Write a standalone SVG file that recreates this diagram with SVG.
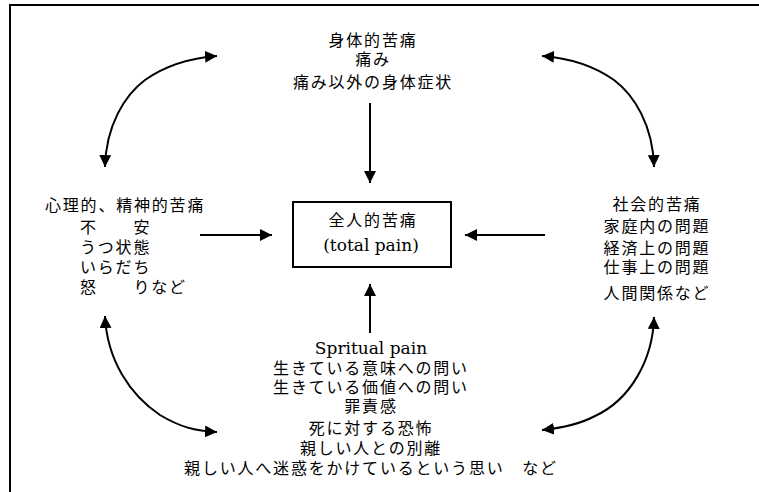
<svg xmlns="http://www.w3.org/2000/svg" width="759" height="492" viewBox="0 0 759 492">
<style>
.jp{font-family:"Noto Sans CJK JP","Noto Sans",sans-serif;font-size:16px;letter-spacing:1.8px;fill:#000}
.c{text-anchor:middle}
.en{font-family:"DejaVu Serif","Liberation Serif",serif;font-size:17px;fill:#000}
.ln{fill:none;stroke:#000;stroke-width:2}
</style>
<defs>
<marker id="ah" viewBox="0 0 12 12" refX="12" refY="6" markerWidth="12" markerHeight="12" markerUnits="userSpaceOnUse" orient="auto-start-reverse">
<path d="M0,0 L12,6 L0,12 z" fill="#000"/>
</marker>
</defs>
<rect x="10" y="5" width="780" height="520" fill="#fff" stroke="#000" stroke-width="2"/>
<g id="connectors">
<path class="ln" d="M370,103 L370,183" marker-end="url(#ah)"/>
<path class="ln" d="M200,235 L272,235" marker-end="url(#ah)"/>
<path class="ln" d="M545,235 L465,235" marker-end="url(#ah)"/>
<path class="ln" d="M370,333 L370,284" marker-end="url(#ah)"/>
<path class="ln" d="M105,167 C106,125 125,95 145,80 C165,66 190,58 217,56" marker-start="url(#ah)" marker-end="url(#ah)"/>
<path class="ln" d="M654,167 C653,125 634,95 614,80 C594,66 569,58 542,56" marker-start="url(#ah)" marker-end="url(#ah)"/>
<path class="ln" d="M105,316 C107,360 130,395 160,415 C180,427 195,431 217,432" marker-start="url(#ah)" marker-end="url(#ah)"/>
<path class="ln" d="M654,317 C653,360 630,400 595,416 C580,424 562,428 542,430" marker-start="url(#ah)" marker-end="url(#ah)"/>
</g>
<g id="physical">
<text class="jp c" x="373" y="46">身体的苦痛</text>
<text class="jp c" x="373" y="65">痛み</text>
<text class="jp c" x="373" y="88">痛み以外の身体症状</text>
</g>
<g id="total">
<rect x="293" y="202" width="158" height="65" fill="#fff" stroke="#000" stroke-width="2"/>
<text class="jp c" x="373" y="226">全人的苦痛</text>
<text class="en c" x="371" y="251">(total pain)</text>
</g>
<g id="psychological">
<text class="jp" x="45" y="211">心理的、精神的苦痛</text>
<text class="jp" x="80" y="233">不　　安</text>
<text class="jp" x="80" y="253">うつ状態</text>
<text class="jp" x="80" y="273">いらだち</text>
<text class="jp" x="80" y="293">怒　　りなど</text>
</g>
<g id="social">
<text class="jp c" x="657" y="210">社会的苦痛</text>
<text class="jp c" x="657" y="232">家庭内の問題</text>
<text class="jp c" x="657" y="254">経済上の問題</text>
<text class="jp c" x="657" y="273">仕事上の問題</text>
<text class="jp c" x="657" y="299">人間関係など</text>
</g>
<g id="spiritual">
<text class="en c" x="371" y="354">Spritual pain</text>
<text class="jp c" x="371" y="374">生きている意味への問い</text>
<text class="jp c" x="371" y="393">生きている価値への問い</text>
<text class="jp c" x="371" y="412">罪責感</text>
<text class="jp c" x="371" y="434">死に対する恐怖</text>
<text class="jp c" x="371" y="454">親しい人との別離</text>
<text class="jp c" x="371" y="474">親しい人へ迷惑をかけているという思い　など</text>
</g>
</svg>
